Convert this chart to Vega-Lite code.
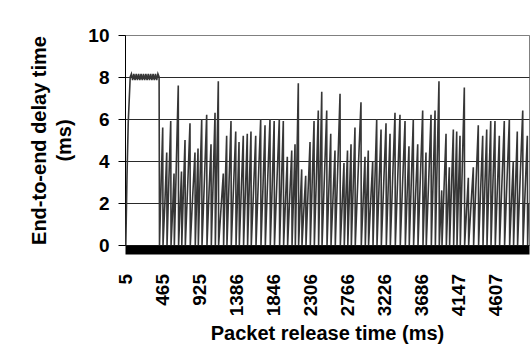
{
  "$schema": "https://vega.github.io/schema/vega-lite/v6.json",
  "width": 404,
  "height": 210,
  "autosize": {"type": "none"},
  "padding": {"left": 125, "top": 35, "right": 3, "bottom": 111},
  "background": "white",
  "config": {
    "font": "Liberation Sans",
    "view": {"stroke": "#808080", "strokeWidth": 1}
  },
  "data": {"values": [
    {"t":5,"d":0},{"t":20,"d":3.3},{"t":35,"d":5.8},{"t":60,"d":8.0},
    {"t":75,"d":8.15},{"t":90,"d":7.85},{"t":105,"d":8.15},{"t":120,"d":7.85},{"t":135,"d":8.15},{"t":150,"d":7.85},{"t":165,"d":8.15},{"t":180,"d":7.85},{"t":195,"d":8.15},{"t":210,"d":7.85},{"t":225,"d":8.15},{"t":240,"d":7.85},{"t":255,"d":8.15},{"t":270,"d":7.85},{"t":285,"d":8.15},{"t":300,"d":7.85},{"t":315,"d":8.15},{"t":330,"d":7.85},{"t":345,"d":8.15},{"t":360,"d":7.85},{"t":375,"d":8.15},{"t":390,"d":7.85},{"t":405,"d":8.15},{"t":420,"d":8.0},
    {"t":425,"d":0},{"t":445,"d":2.9},{"t":465,"d":5.6},
    {"t":469,"d":0},{"t":492,"d":2.0},{"t":515,"d":4.4},
    {"t":519,"d":0},{"t":542,"d":3.1},{"t":565,"d":5.9},
    {"t":569,"d":0},{"t":588,"d":1.6},{"t":606,"d":3.4},
    {"t":610,"d":0},{"t":635,"d":3.9},{"t":659,"d":7.6},
    {"t":663,"d":0},{"t":681,"d":1.7},{"t":699,"d":3.5},
    {"t":703,"d":0},{"t":723,"d":2.6},{"t":743,"d":5.0},
    {"t":747,"d":0},{"t":776,"d":2.8},{"t":805,"d":5.8},
    {"t":809,"d":0},{"t":838,"d":2.3},{"t":867,"d":4.4},
    {"t":871,"d":0},{"t":888,"d":2.2},{"t":905,"d":4.6},
    {"t":909,"d":0},{"t":930,"d":3.1},{"t":951,"d":6.0},
    {"t":955,"d":0},{"t":984,"d":3.0},{"t":1013,"d":6.2},
    {"t":1017,"d":0},{"t":1042,"d":2.5},{"t":1067,"d":4.8},
    {"t":1071,"d":0},{"t":1094,"d":3.1},{"t":1117,"d":6.3},
    {"t":1121,"d":0},{"t":1140,"d":4.0},{"t":1158,"d":7.8},
    {"t":1162,"d":0},{"t":1191,"d":1.7},{"t":1220,"d":3.4},
    {"t":1224,"d":0},{"t":1243,"d":2.7},{"t":1262,"d":5.2},
    {"t":1266,"d":0},{"t":1291,"d":2.9},{"t":1316,"d":5.9},
    {"t":1320,"d":0},{"t":1348,"d":2.8},{"t":1375,"d":5.4},
    {"t":1379,"d":0},{"t":1398,"d":2.4},{"t":1416,"d":4.9},
    {"t":1420,"d":0},{"t":1445,"d":2.7},{"t":1469,"d":5.2},
    {"t":1473,"d":0},{"t":1496,"d":2.6},{"t":1519,"d":5.3},
    {"t":1523,"d":0},{"t":1544,"d":2.8},{"t":1565,"d":5.4},
    {"t":1569,"d":0},{"t":1597,"d":2.6},{"t":1624,"d":5.2},
    {"t":1628,"d":0},{"t":1657,"d":3.1},{"t":1686,"d":6.0},
    {"t":1690,"d":0},{"t":1715,"d":2.8},{"t":1740,"d":5.7},
    {"t":1744,"d":0},{"t":1773,"d":3.1},{"t":1802,"d":6.0},
    {"t":1806,"d":0},{"t":1830,"d":2.9},{"t":1854,"d":5.9},
    {"t":1858,"d":0},{"t":1888,"d":3.0},{"t":1918,"d":6.0},
    {"t":1922,"d":0},{"t":1945,"d":3.0},{"t":1968,"d":5.9},
    {"t":1972,"d":0},{"t":1995,"d":2.1},{"t":2018,"d":4.2},
    {"t":2022,"d":0},{"t":2048,"d":2.3},{"t":2073,"d":4.5},
    {"t":2077,"d":0},{"t":2096,"d":2.4},{"t":2114,"d":4.8},
    {"t":2118,"d":0},{"t":2137,"d":3.9},{"t":2155,"d":7.7},
    {"t":2159,"d":0},{"t":2178,"d":1.8},{"t":2197,"d":3.6},
    {"t":2201,"d":0},{"t":2224,"d":1.7},{"t":2247,"d":3.3},
    {"t":2251,"d":0},{"t":2276,"d":2.5},{"t":2301,"d":4.9},
    {"t":2305,"d":0},{"t":2328,"d":3.0},{"t":2351,"d":5.9},
    {"t":2355,"d":0},{"t":2380,"d":3.2},{"t":2404,"d":6.4},
    {"t":2408,"d":0},{"t":2428,"d":3.7},{"t":2447,"d":7.3},
    {"t":2451,"d":0},{"t":2480,"d":3.2},{"t":2509,"d":6.4},
    {"t":2513,"d":0},{"t":2536,"d":2.7},{"t":2559,"d":5.3},
    {"t":2563,"d":0},{"t":2588,"d":2.3},{"t":2612,"d":4.5},
    {"t":2616,"d":0},{"t":2646,"d":3.6},{"t":2675,"d":7.2},
    {"t":2679,"d":0},{"t":2702,"d":2.0},{"t":2724,"d":3.9},
    {"t":2728,"d":0},{"t":2748,"d":2.3},{"t":2768,"d":4.5},
    {"t":2772,"d":0},{"t":2792,"d":2.4},{"t":2812,"d":4.8},
    {"t":2816,"d":0},{"t":2839,"d":2.8},{"t":2861,"d":5.6},
    {"t":2865,"d":0},{"t":2900,"d":3.4},{"t":2936,"d":6.8},
    {"t":2940,"d":0},{"t":2963,"d":2.1},{"t":2986,"d":4.2},
    {"t":2990,"d":0},{"t":3008,"d":2.3},{"t":3027,"d":4.5},
    {"t":3031,"d":0},{"t":3056,"d":2.0},{"t":3082,"d":4.0},
    {"t":3086,"d":0},{"t":3109,"d":3.0},{"t":3132,"d":6.0},
    {"t":3136,"d":0},{"t":3161,"d":2.8},{"t":3186,"d":5.5},
    {"t":3190,"d":0},{"t":3219,"d":2.9},{"t":3248,"d":5.8},
    {"t":3252,"d":0},{"t":3275,"d":2.7},{"t":3298,"d":5.3},
    {"t":3302,"d":0},{"t":3331,"d":3.2},{"t":3360,"d":6.3},
    {"t":3364,"d":0},{"t":3393,"d":3.1},{"t":3422,"d":6.2},
    {"t":3426,"d":0},{"t":3455,"d":3.0},{"t":3485,"d":5.9},
    {"t":3489,"d":0},{"t":3511,"d":2.4},{"t":3534,"d":4.7},
    {"t":3538,"d":0},{"t":3563,"d":3.0},{"t":3588,"d":6.0},
    {"t":3592,"d":0},{"t":3617,"d":2.4},{"t":3643,"d":4.8},
    {"t":3647,"d":0},{"t":3676,"d":3.2},{"t":3705,"d":6.4},
    {"t":3709,"d":0},{"t":3727,"d":2.2},{"t":3746,"d":4.4},
    {"t":3750,"d":0},{"t":3780,"d":3.1},{"t":3809,"d":6.2},
    {"t":3813,"d":0},{"t":3836,"d":3.2},{"t":3859,"d":6.4},
    {"t":3863,"d":0},{"t":3885,"d":3.9},{"t":3908,"d":7.8},
    {"t":3912,"d":0},{"t":3927,"d":1.3},{"t":3942,"d":2.6},
    {"t":3946,"d":0},{"t":3971,"d":2.7},{"t":3996,"d":5.3},
    {"t":4000,"d":0},{"t":4018,"d":1.9},{"t":4037,"d":3.7},
    {"t":4041,"d":0},{"t":4064,"d":2.8},{"t":4087,"d":5.5},
    {"t":4091,"d":0},{"t":4110,"d":2.7},{"t":4129,"d":5.4},
    {"t":4133,"d":0},{"t":4151,"d":2.6},{"t":4170,"d":5.2},
    {"t":4174,"d":0},{"t":4199,"d":3.8},{"t":4224,"d":7.5},
    {"t":4228,"d":0},{"t":4251,"d":1.6},{"t":4274,"d":3.2},
    {"t":4278,"d":0},{"t":4307,"d":1.9},{"t":4336,"d":3.7},
    {"t":4340,"d":0},{"t":4369,"d":2.9},{"t":4398,"d":5.7},
    {"t":4402,"d":0},{"t":4427,"d":2.6},{"t":4453,"d":5.2},
    {"t":4457,"d":0},{"t":4480,"d":2.8},{"t":4503,"d":5.5},
    {"t":4507,"d":0},{"t":4530,"d":3.0},{"t":4553,"d":5.9},
    {"t":4557,"d":0},{"t":4581,"d":3.0},{"t":4606,"d":5.9},
    {"t":4610,"d":0},{"t":4635,"d":2.6},{"t":4660,"d":5.2},
    {"t":4664,"d":0},{"t":4693,"d":3.0},{"t":4722,"d":5.9},
    {"t":4726,"d":0},{"t":4755,"d":3.0},{"t":4785,"d":6.0},
    {"t":4789,"d":0},{"t":4811,"d":2.0},{"t":4834,"d":4.0},
    {"t":4838,"d":0},{"t":4861,"d":2.7},{"t":4884,"d":5.4},
    {"t":4888,"d":0},{"t":4920,"d":3.2},{"t":4952,"d":6.4},
    {"t":4956,"d":0},{"t":4982,"d":2.6},{"t":5009,"d":5.2},
    {"t":5013,"d":0},{"t":5025,"d":2.0}
  ]},
  "mark": {"type": "line", "color": "#363636", "strokeWidth": 1.6, "clip": true},
  "encoding": {
    "x": {
      "field": "t", "type": "quantitative",
      "scale": {"domain": [-5, 5030], "nice": false, "zero": false},
      "axis": {
        "values": [5, 465, 925, 1386, 1846, 2306, 2766, 3226, 3686, 4147, 4607],
        "format": "d",
        "labelAngle": -90, "labelAlign": "right", "labelBaseline": "middle",
        "labelFontSize": 19, "labelFontWeight": "bold", "labelColor": "black",
        "labelPadding": 24,
        "ticks": false, "tickSize": 0,
        "domainWidth": 9, "domainColor": "black", "offset": 4.5,
        "grid": false,
        "title": "Packet release time (ms)",
        "titleFontSize": 20, "titleFontWeight": "bold", "titleColor": "black",
        "titlePadding": 8
      }
    },
    "y": {
      "field": "d", "type": "quantitative",
      "scale": {"domain": [0, 10], "nice": false},
      "axis": {
        "values": [0, 2, 4, 6, 8, 10],
        "labelFontSize": 19, "labelFontWeight": "bold", "labelColor": "black",
        "tickSize": 7, "tickColor": "black", "labelPadding": 9,
        "domainColor": "black", "domainWidth": 1,
        "grid": true,
        "gridColor": {"condition": {"test": "datum.value == 10", "value": "#808080"}, "value": "#2a2a2a"},
        "gridWidth": 1, "gridOpacity": 1,
        "title": ["End-to-end delay time", "(ms)"],
        "titleFontSize": 20, "titleFontWeight": "bold", "titleColor": "black",
        "titlePadding": 13, "titleLineHeight": 25
      }
    }
  }
}
